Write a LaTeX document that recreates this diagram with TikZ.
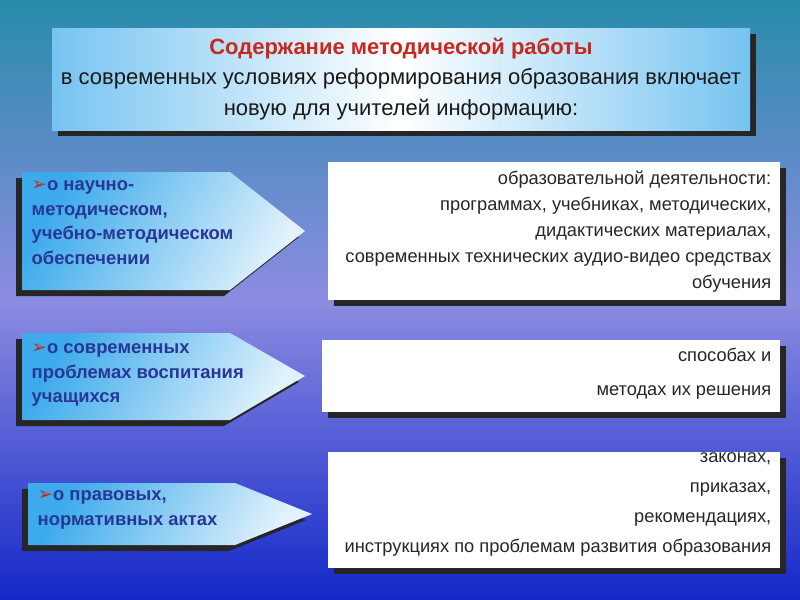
\documentclass[tikz,border=0pt]{standalone}
\usepackage{fontspec}
\setmainfont{Liberation Sans}
\newfontfamily\djvfont{DejaVu Sans}
\definecolor{bgtop}{RGB}{40,140,170}
\definecolor{bgmid}{RGB}{140,140,225}
\definecolor{bgbot}{RGB}{20,40,200}
\definecolor{txtb}{RGB}{40,55,150}
\definecolor{sky}{RGB}{60,170,235}
\definecolor{titred}{RGB}{200,40,30}
\tikzset{
 arr/.style={left color=sky, right color=white!85!sky, shading angle=60},
 shad/.style={fill=black!85},
 wbox/.style={fill=white},
 lbl/.style={text=txtb, font=\bfseries\fontsize{13.8}{18.5}\selectfont, align=left, anchor=north west},
 rtxt/.style={text=black!85, font=\fontsize{13.7}{19.5}\selectfont, align=right, anchor=north east},
}
\newcommand{\bul}{{\djvfont\color{titred}➢}}
\begin{document}
\begin{tikzpicture}[x=0.75pt,y=-0.75pt]
\useasboundingbox (0,0) rectangle (800,600);
\shade[top color=bgtop, bottom color=bgmid] (0,0) rectangle (800,300);
\shade[top color=bgmid, bottom color=bgbot] (0,300) rectangle (800,600);
% title
\fill[shad] (58,34) rectangle (756,136);
\shade[left color=sky!70, right color=sky!70, middle color=white] (52,28) rectangle (750,130);
\node (t) at (401,79) [align=center, font=\fontsize{16.5}{23}\selectfont, text=black!90] {{\bfseries\color{titred}Содержание методической работы}\\в современных условиях реформирования образования включает\\новую для учителей информацию:};
% arrows
\fill[shad] (16,178) -- (224,178) -- (299,237) -- (224,296) -- (16,296) -- cycle;
\shade[arr] (22,172) -- (230,172) -- (305,231) -- (230,290) -- (22,290) -- cycle;
\node (a1) [lbl] at (27,176) {\bul о научно-\\методическом,\\учебно-методическом\\обеспечении};
\fill[shad] (16,339) -- (224,339) -- (299,382) -- (224,426) -- (16,426) -- cycle;
\shade[arr] (22,333) -- (230,333) -- (305,376) -- (230,420) -- (22,420) -- cycle;
\node (a2) [lbl] at (27,339) {\bul о современных\\проблемах воспитания\\учащихся};
\fill[shad] (22,489) -- (229,489) -- (306,520) -- (229,551) -- (22,551) -- cycle;
\shade[arr] (28,483) -- (235,483) -- (312,514) -- (235,545) -- (28,545) -- cycle;
\node (a3) [lbl] at (33,486) {\bul о правовых,\\нормативных актах};
% right boxes
\fill[shad] (334,168) rectangle (786,306);
\fill[wbox] (328,162) rectangle (780,300);
\node (b1) [rtxt] at (776,166) {образовательной деятельности:\\программах, учебниках, методических,\\дидактических материалах,\\современных технических аудио-видео средствах\\обучения};
\fill[shad] (328,346) rectangle (786,418);
\fill[wbox] (322,340) rectangle (780,412);
\node (b2) [rtxt, font=\fontsize{13.7}{26}\selectfont] at (776,343) {способах и\\методах их решения};
\fill[shad] (334,458) rectangle (786,574);
\fill[wbox] (328,452) rectangle (780,568);
\node (b3) [rtxt, font=\fontsize{13.7}{22.5}\selectfont] at (776,448) {законах,\\приказах,\\рекомендациях,\\инструкциях  по проблемам развития образования};
\end{tikzpicture}
\end{document}
